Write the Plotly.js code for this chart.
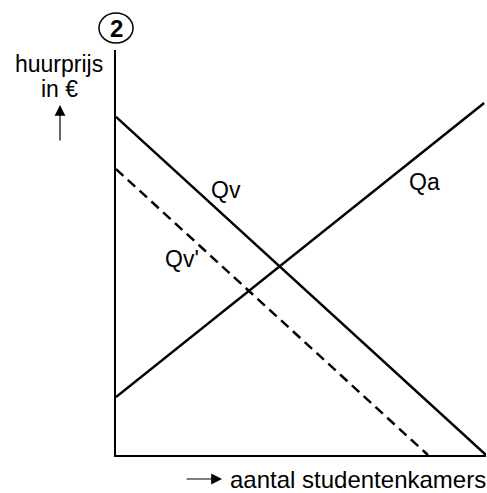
<!DOCTYPE html>
<html>
<head>
<meta charset="utf-8">
<script src="https://cdn.plot.ly/plotly-3.0.1.min.js"></script>
<style>
  html, body { margin: 0; padding: 0; background: #fff; }
  #myDiv { width: 487px; height: 493px; }
</style>
</head>
<body>
<div id="myDiv"></div>
<script>
// lines of the diagram (price on y, number of rooms on x, both 0-100)
var qvX = [0, 100];
var qvY = [83.5, 0];
var qvNewX = [0, 84.3];
var qvNewY = [70.6, 0];
var qaX = [0, 99.5];
var qaY = [14.3, 86.9];

var lineLabels = ['Qv', "Qv'", 'Qa'];
var labelX = [29.7, 17.8, 83.5];
var labelY = [65.4, 48.4, 67.4];

var yTitle = ['huurprijs', 'in €'];
var xTitle = 'aantal studentenkamers';
var figNumber = '2';

// plot area in pixels: x 116..486, y 50..455
var px = function (x) { return (x - 116) / 370; };
var py = function (y) { return (455 - y) / 405; };

var fam = '"Liberation Sans", Arial, sans-serif';
var font = { family: fam, size: 23, color: '#000' };

var data = [
    { x: qvX, y: qvY, type: 'scatter', mode: 'lines', line: { color: '#000', width: 2.5 }, hoverinfo: 'skip' },
    { x: qvNewX, y: qvNewY, type: 'scatter', mode: 'lines', line: { color: '#000', width: 2.5, dash: '10px,6px' }, hoverinfo: 'skip' },
    { x: qaX, y: qaY, type: 'scatter', mode: 'lines', line: { color: '#000', width: 2.5 }, hoverinfo: 'skip' }
];

function note(x, y, text, f, xanchor) {
    return { x: x, y: y, xref: 'paper', yref: 'paper', text: text, showarrow: false, font: f,
        xanchor: xanchor || 'center', yanchor: 'middle' };
}

var annotations = [];
for (var i = 0; i < lineLabels.length; i++) {
    annotations.push({ x: labelX[i], y: labelY[i], xref: 'x', yref: 'y', text: lineLabels[i], showarrow: false,
        font: font, xanchor: 'center', yanchor: 'middle' });
}
annotations.push(note(px(59), py(64), yTitle[0], font));
annotations.push(note(px(59), py(89), yTitle[1], font));
// up arrow
annotations.push({ x: px(60), y: py(105), xref: 'paper', yref: 'paper', text: '', showarrow: true,
    ax: 0, ay: 37, arrowhead: 2, arrowsize: 1.8, arrowwidth: 1.2, arrowcolor: '#000', standoff: 0 });
// right arrow
annotations.push({ x: px(222), y: py(479), xref: 'paper', yref: 'paper', text: '', showarrow: true,
    ax: -37, ay: 0, arrowhead: 2, arrowsize: 1.8, arrowwidth: 1.2, arrowcolor: '#000', standoff: 0 });
annotations.push(note(px(228), py(479), xTitle, { family: fam, size: 24, color: '#000' }, 'left'));
annotations.push(note(px(116), py(28), '<b>' + figNumber + '</b>', { family: fam, size: 24, color: '#000' }));

var axis = {
    range: [0, 100], showline: true, linecolor: '#000', linewidth: 2, mirror: false,
    showgrid: false, zeroline: false, showticklabels: false, ticks: '', fixedrange: true
};

var layout = {
    width: 487,
    height: 493,
    margin: { l: 116, r: 1, t: 50, b: 38 },
    paper_bgcolor: '#fff',
    plot_bgcolor: '#fff',
    showlegend: false,
    xaxis: axis,
    yaxis: Object.assign({}, axis),
    annotations: annotations,
    shapes: [{
        type: 'circle', xref: 'paper', yref: 'paper',
        x0: px(99), x1: px(133), y0: py(43), y1: py(13),
        line: { color: '#000', width: 1.5 }
    }]
};

Plotly.newPlot('myDiv', data, layout, { displayModeBar: false, staticPlot: true });
</script>
</body>
</html>
